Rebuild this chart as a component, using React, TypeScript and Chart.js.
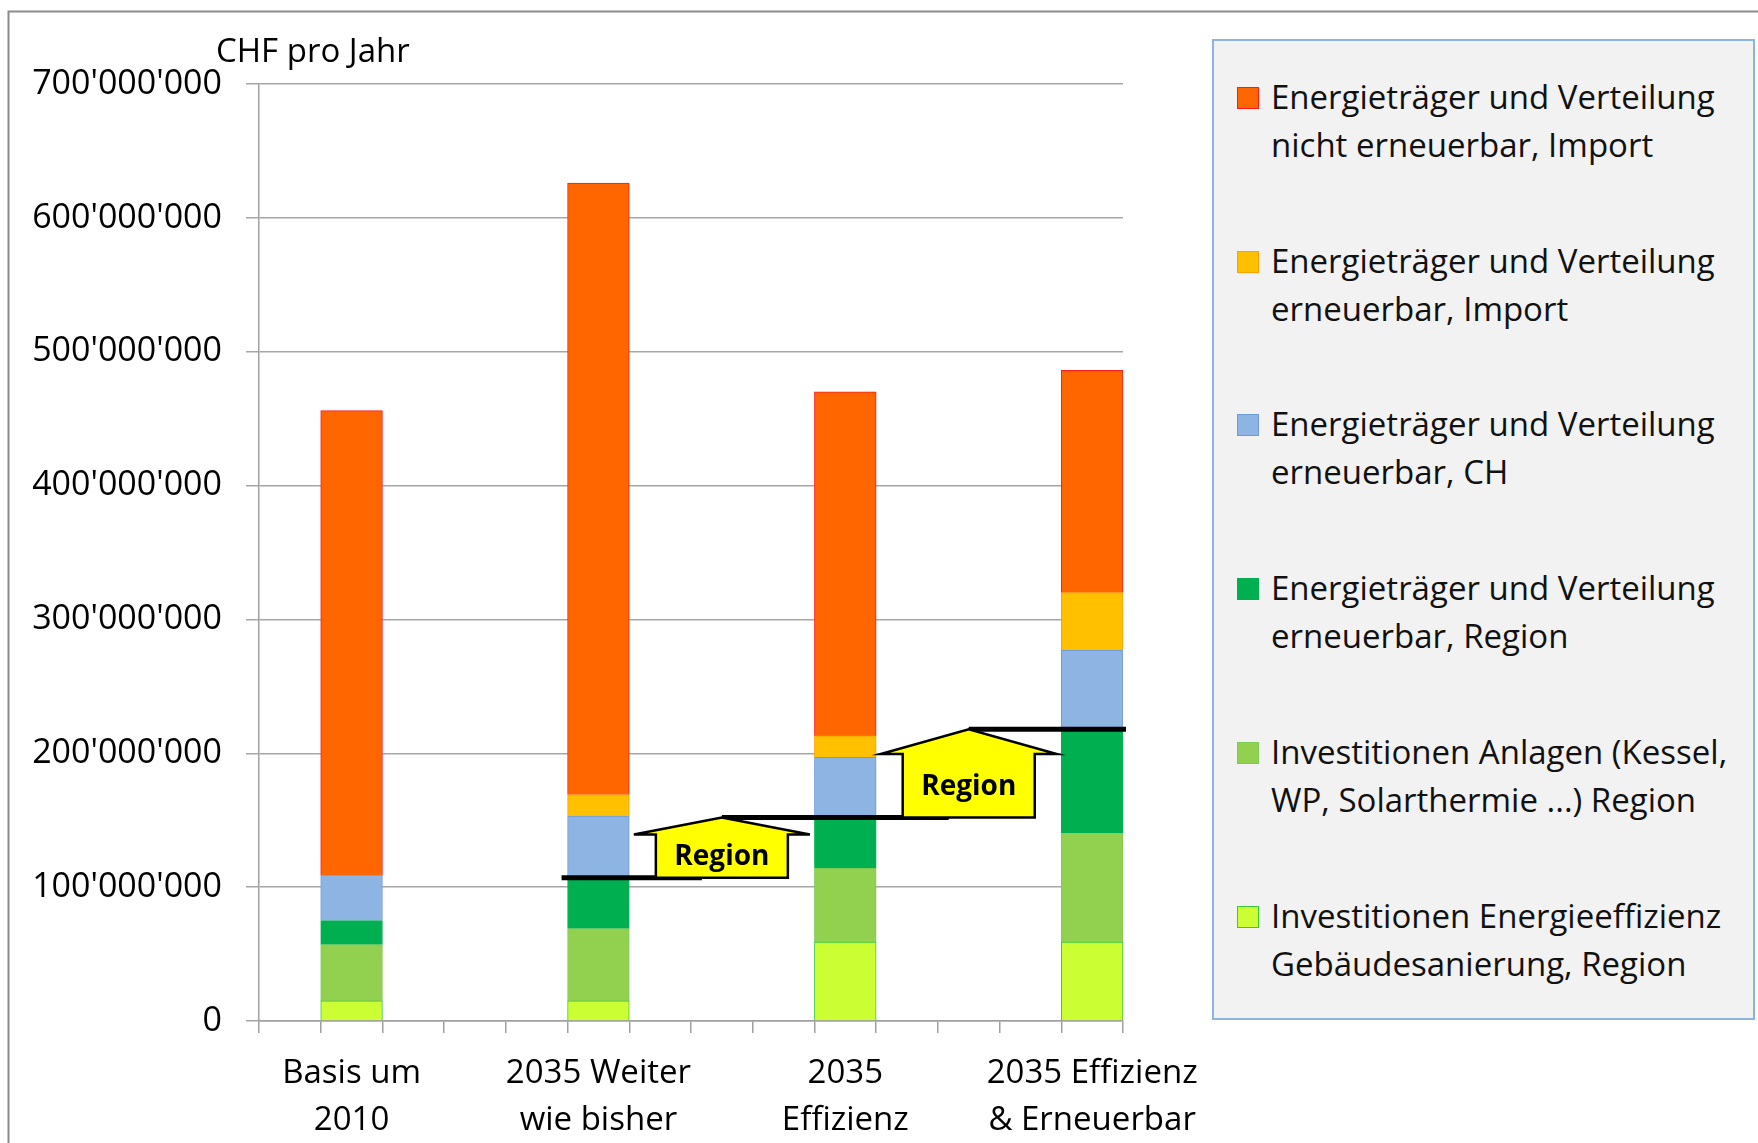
import React, { useEffect, useRef } from 'react';
import { Chart, registerables } from 'chart.js';

Chart.register(...registerables);

// ---- data (CHF pro Jahr) ----
const scenarios: string[][] = [
  ['Basis um', '2010'],
  ['2035 Weiter', 'wie bisher'],
  ['2035', 'Effizienz'],
  ['2035 Effizienz', '& Erneuerbar'],
];
const slotCount = 14;
const scenarioSlots = [1, 5, 9, 13];

// series, from bottom of the stack to top
const investEffizienzRegion = [15e6, 15e6, 59e6, 59e6];
const investAnlagenRegion = [42e6, 54e6, 55e6, 81e6];
const erneuerbarRegion = [18e6, 38e6, 38e6, 78e6];
const erneuerbarCH = [34e6, 46e6, 45e6, 59e6];
const erneuerbarImport = [0, 16e6, 16e6, 43e6];
const nichtErneuerbarImport = [347e6, 457e6, 257e6, 166e6];

const seriesNames: string[][] = [
  ['Investitionen Energieeffizienz', 'Gebäudesanierung, Region'],
  ['Investitionen Anlagen (Kessel,', 'WP, Solarthermie ...) Region'],
  ['Energieträger und Verteilung', 'erneuerbar, Region'],
  ['Energieträger und Verteilung', 'erneuerbar, CH'],
  ['Energieträger und Verteilung', 'erneuerbar, Import'],
  ['Energieträger und Verteilung', 'nicht erneuerbar, Import'],
];
const seriesFills = ['#CCFF33', '#92D050', '#00B050', '#8EB4E3', '#FFC000', '#FF6600'];
const seriesBorders = ['#3CC83C', '#7DCB55', '#00B050', '#6F9BD6', '#FFA000', '#FF1A1A'];

const yMax = 700e6;
const yStep = 100e6;
const yTitle = 'CHF pro Jahr';
const arrowText = 'Region';

const FONT = '"Open Sans", "Noto Sans", Arial, sans-serif';

const seriesValues = [
  investEffizienzRegion,
  investAnlagenRegion,
  erneuerbarRegion,
  erneuerbarCH,
  erneuerbarImport,
  nichtErneuerbarImport,
];

function toSlots(values: number[]) {
  const arr: (number | null)[] = Array(slotCount).fill(null);
  scenarioSlots.forEach((s, i) => {
    arr[s] = values[i] ? values[i] : null;
  });
  return arr;
}

function formatCHF(v: number) {
  return Math.round(v).toString().replace(/\B(?=(\d{3})+(?!\d))/g, "'");
}

// regional level per scenario = sum of the three regional series
const regionLevels = scenarios.map(
  (_, i) => investEffizienzRegion[i] + investAnlagenRegion[i] + erneuerbarRegion[i]
);

const annotationPlugin = {
  id: 'regionAnnotations',
  beforeDraw(chart: any) {
    const ctx = chart.ctx;
    ctx.save();
    ctx.strokeStyle = '#8C8C8C';
    ctx.lineWidth = 2;
    ctx.beginPath();
    ctx.moveTo(8.5, chart.height);
    ctx.lineTo(8.5, 11.5);
    ctx.lineTo(chart.width, 11.5);
    ctx.stroke();
    ctx.restore();
  },
  afterDatasetsDraw(chart: any) {
    const ctx = chart.ctx;
    const xs = chart.scales.x;
    const ys = chart.scales.y;
    const area = chart.chartArea;
    ctx.save();

    // y title
    ctx.fillStyle = '#000';
    ctx.font = `33px ${FONT}`;
    ctx.textAlign = 'left';
    ctx.textBaseline = 'middle';
    ctx.fillText(yTitle, area.left - 43, area.top - 31);

    // arrows between scenario 2->3 and 3->4
    const arrowX = (k: number) => xs.getPixelForValue((scenarioSlots[k] + scenarioSlots[k + 1]) / 2);

    // black level lines
    ctx.strokeStyle = '#000';
    ctx.lineWidth = 5;
    ctx.lineCap = 'butt';
    for (let k = 1; k < scenarios.length; k++) {
      const y = ys.getPixelForValue(regionLevels[k]);
      const startX = k === 1 ? xs.getPixelForValue(scenarioSlots[k] - 0.5) - 6 : arrowX(k - 1);
      const endX = k === scenarios.length - 1 ? xs.getPixelForValue(scenarioSlots[k] + 0.5) + 3 : arrowX(k) - 20;
      ctx.beginPath();
      ctx.moveTo(startX, y);
      ctx.lineTo(endX, y);
      ctx.stroke();
    }

    for (let k = 1; k < scenarios.length - 1; k++) {
      const cx = arrowX(k);
      const yBottom = ys.getPixelForValue(regionLevels[k]);
      const yTop = ys.getPixelForValue(regionLevels[k + 1]);
      const head = (yBottom - yTop) * 0.28;
      const yShoulder = yTop + head;
      const bodyHW = 66;
      const wingHW = 88;
      ctx.beginPath();
      ctx.moveTo(cx - bodyHW, yBottom);
      ctx.lineTo(cx - bodyHW, yShoulder);
      ctx.lineTo(cx - wingHW, yShoulder);
      ctx.lineTo(cx, yTop);
      ctx.lineTo(cx + wingHW, yShoulder);
      ctx.lineTo(cx + bodyHW, yShoulder);
      ctx.lineTo(cx + bodyHW, yBottom);
      ctx.closePath();
      ctx.fillStyle = '#FFFF00';
      ctx.fill();
      ctx.lineWidth = 2.5;
      ctx.lineJoin = 'miter';
      ctx.strokeStyle = '#000';
      ctx.stroke();

      ctx.fillStyle = '#000';
      ctx.font = `bold 28px ${FONT}`;
      ctx.textAlign = 'center';
      ctx.textBaseline = 'middle';
      ctx.fillText(arrowText, cx, (yShoulder + yBottom) / 2 + 1);
    }
    ctx.restore();
  },
};

export default function App() {
  const canvasRef = useRef<HTMLCanvasElement | null>(null);

  useEffect(() => {
    const canvas = canvasRef.current;
    if (!canvas) return;
    const labels = Array.from({ length: slotCount }, (_, i) => {
      const k = scenarioSlots.indexOf(i);
      return k >= 0 ? scenarios[k] : '';
    });
    const datasets = seriesValues.map((vals, i) => ({
      label: seriesNames[i].join(' '),
      data: toSlots(vals),
      backgroundColor: seriesFills[i],
      borderColor: seriesBorders[i],
      borderWidth: 1,
      barPercentage: 1,
      categoryPercentage: 1,
    }));

    const chart = new Chart(canvas, {
      type: 'bar',
      data: { labels, datasets },
      options: {
        responsive: false,
        animation: false,
        devicePixelRatio: 1,
        layout: { padding: { left: 0, top: 84, right: 1758 - 1123, bottom: 0 } },
        plugins: {
          legend: { display: false },
          tooltip: { enabled: false },
        },
        scales: {
          x: {
            stacked: true,
            offset: true,
            grid: {
              offset: true,
              drawOnChartArea: false,
              drawTicks: true,
              tickLength: 12,
              color: '#A0A0A0',
              lineWidth: 1.5,
            },
            border: { display: true, color: '#A0A0A0', width: 1.5 },
            ticks: {
              autoSkip: false,
              maxRotation: 0,
              minRotation: 0,
              padding: 17,
              color: '#000',
              font: { family: FONT, size: 33, lineHeight: 1.42 },
            },
            afterFit(scale: any) {
              scale.height = 1143 - 1021;
            },
          },
          y: {
            stacked: true,
            min: 0,
            max: yMax,
            grid: {
              color: '#A6A6A6',
              lineWidth: 1.5,
              drawTicks: true,
              tickLength: 13,
            },
            border: { display: true, color: '#A0A0A0', width: 1.5 },
            ticks: {
              stepSize: yStep,
              padding: 24,
              color: '#000',
              font: { family: FONT, size: 34 },
              callback: (v: any) => formatCHF(Number(v)),
            },
            afterFit(scale: any) {
              scale.width = 259;
            },
          },
        },
      },
      plugins: [annotationPlugin],
    } as any);
    return () => chart.destroy();
  }, []);

  const legendItems = seriesNames
    .map((name, i) => ({ name, fill: seriesFills[i], border: seriesBorders[i] }))
    .reverse();

  return (
    <div
      style={{
        position: 'absolute',
        left: 0,
        top: 0,
        width: 1758,
        height: 1143,
        overflow: 'hidden',
        background: '#fff',
      }}
    >
      <canvas
        ref={canvasRef}
        width={1758}
        height={1143}
        style={{ position: 'absolute', left: 0, top: 0, width: 1758, height: 1143 }}
      />
      <div
        style={{
          position: 'absolute',
          left: 1212,
          top: 39,
          width: 543,
          height: 981,
          boxSizing: 'border-box',
          border: '2px solid #8DB3E2',
          background: '#F2F2F2',
          fontFamily: FONT,
          fontSize: 33,
          color: '#111',
        }}
      >
        {legendItems.map((item, i) => (
          <div key={i}>
            <div
              style={{
                position: 'absolute',
                left: 23,
                top: 46 + i * 163.7,
                width: 22,
                height: 22,
                boxSizing: 'border-box',
                background: item.fill,
                border: `1.5px solid ${item.border}`,
              }}
            />
            <div
              style={{
                position: 'absolute',
                left: 57,
                top: 32 + i * 163.7,
                lineHeight: '48px',
                whiteSpace: 'nowrap',
              }}
            >
              {item.name.map((line, j) => (
                <div key={j}>{line}</div>
              ))}
            </div>
          </div>
        ))}
      </div>
    </div>
  );
}
